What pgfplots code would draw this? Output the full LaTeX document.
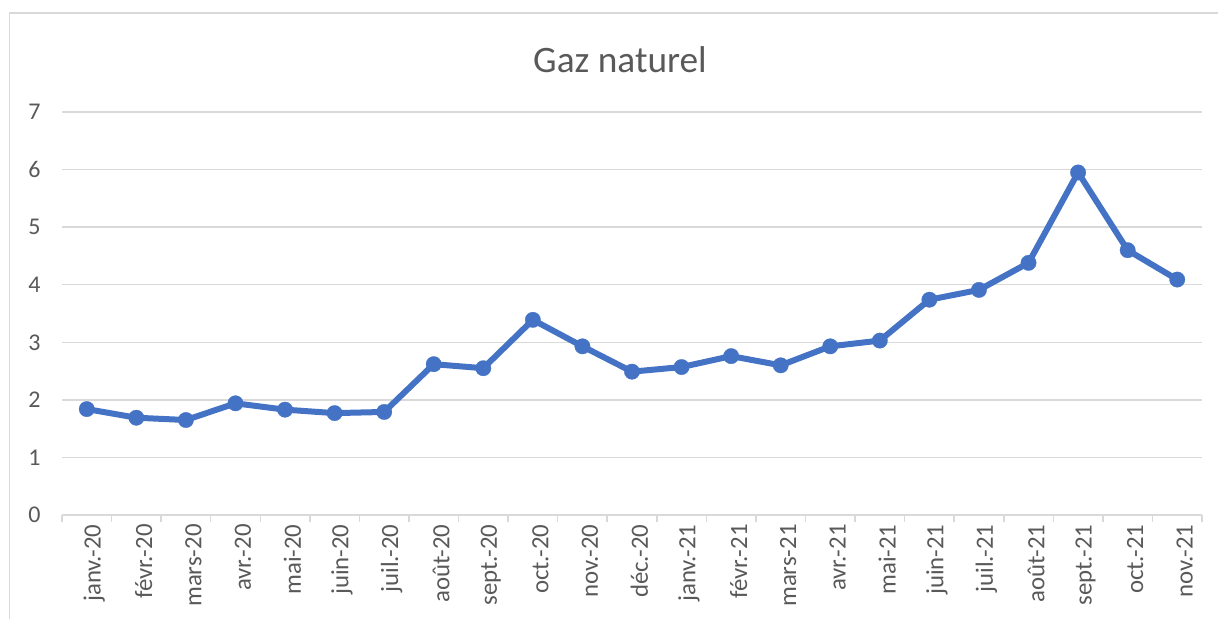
\documentclass[border=0pt]{standalone}
\usepackage{fontspec}
\setmainfont{Carlito}
\usepackage{pgfplots}
\pgfplotsset{compat=1.18}
\definecolor{gridgray}{HTML}{D9D9D9}
\definecolor{txtgray}{HTML}{595959}
\definecolor{lineblue}{HTML}{4472C4}
\begin{document}
\begin{tikzpicture}
\path[use as bounding box] (0pt,0pt) rectangle (456.75pt,232.125pt);
\draw[gridgray, line width=0.56pt] (3.56pt,0pt) -- (3.56pt,227.25pt) -- (456.75pt,227.25pt);
\begin{axis}[
  at={(23.25pt,39pt)}, anchor=south west,
  scale only axis, width=427.5pt, height=151.125pt,
  xmin=-0.5, xmax=22.5, ymin=0, ymax=7,
  axis lines*=left,
  x axis line style={gridgray, line width=0.56pt},
  y axis line style={draw=none},
  xtick={0,...,22},
  xticklabels={janv.-20,févr.-20,mars-20,avr.-20,mai-20,juin-20,juil.-20,août-20,sept.-20,oct.-20,nov.-20,déc.-20,janv.-21,févr.-21,mars-21,avr.-21,mai-21,juin-21,juil.-21,août-21,sept.-21,oct.-21,nov.-21},
  minor xtick={-0.5,0.5,...,22.5},
  ytick={0,...,7},
  tick align=outside,
  major tick length=0pt,
  minor tick length=2.6pt,
  minor tick style={gridgray, line width=0.56pt},
  ytick style={draw=none},
  ymajorgrids,
  major grid style={gridgray, line width=0.56pt},
  /pgf/number format/assume math mode=true,
  x tick label style={rotate=90, anchor=east, yshift=-2.8pt, font=\fontsize{9.3}{11}\selectfont, text=txtgray},
  y tick label style={xshift=-4.5pt, font=\fontsize{9}{11}\selectfont, text=txtgray},
  clip=false,
]
\addplot[lineblue, line width=2.25pt, mark=*, mark size=2.9pt,
  mark options={fill=lineblue, draw=lineblue, line width=0.1pt}]
coordinates {
(0,1.84) (1,1.69) (2,1.65) (3,1.94) (4,1.83) (5,1.77) (6,1.79) (7,2.62)
(8,2.55) (9,3.39) (10,2.93) (11,2.49) (12,2.57) (13,2.76) (14,2.60)
(15,2.93) (16,3.03) (17,3.74) (18,3.91) (19,4.38) (20,5.95) (21,4.60) (22,4.09)
};
\end{axis}
\node[anchor=base, font=\fontsize{14}{16}\selectfont, text=txtgray] at (232.5pt,205pt) {Gaz naturel};
\end{tikzpicture}
\end{document}
